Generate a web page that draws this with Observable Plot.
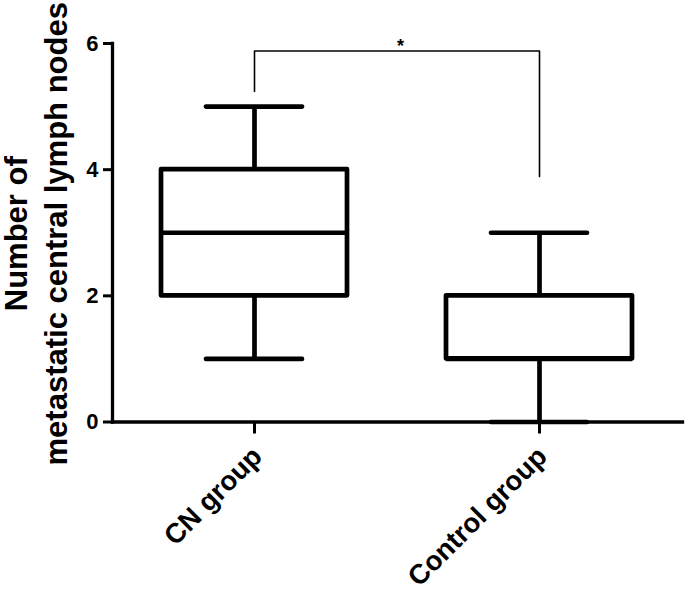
<!DOCTYPE html>
<html>
<head>
<meta charset="utf-8">
<script src="https://cdn.jsdelivr.net/npm/d3@7"></script>
<script src="https://cdn.jsdelivr.net/npm/@observablehq/plot@0.6"></script>
<style>
  html, body { margin: 0; padding: 0; background: #fff; }
</style>
</head>
<body>
<div id="chart"></div>
<script>
// ---- data ----
const groups  = ["CN group", "Control group"];
const mins    = [1, 0];
const q1s     = [2, 1];
const medians = [3, 1];
const q3s     = [4, 2];
const maxs    = [5, 3];
const yTicks  = [0, 2, 4, 6];
const yLabel  = "Number of\nmetastatic central lymph nodes";
// significance bracket
const bracketGroups = ["CN group", "CN group", "Control group", "Control group"];
const bracketValues = [5.24, 5.88, 5.88, 3.89];
const sigLabel = "*";
const sigValue = 5.88;

const rows = groups.map((g, i) => ({
  group: g, min: mins[i], q1: q1s[i], median: medians[i], q3: q3s[i], max: maxs[i]
}));
const bracket = bracketGroups.map((g, i) => ({group: g, value: bracketValues[i]}));

const W = 4.7;
const chart = Plot.plot({
  width: 685,
  height: 594,
  marginLeft: 112,
  marginRight: 3,
  marginTop: 43,
  marginBottom: 172.5,
  style: {fontFamily: "'Liberation Sans', Arial, sans-serif", fontWeight: "bold", color: "black", background: "white"},
  x: {type: "band", domain: groups, paddingInner: 0.347, paddingOuter: 0.1735},
  y: {domain: [0, 6]},
  marks: [
    Plot.ruleX(rows, {x: "group", y1: "min", y2: "q1", strokeWidth: W}),
    Plot.ruleX(rows, {x: "group", y1: "q3", y2: "max", strokeWidth: W}),
    Plot.tickY(rows, {x: "group", y: "min", insetLeft: 45, insetRight: 45, strokeWidth: W, strokeLinecap: "round"}),
    Plot.tickY(rows, {x: "group", y: "max", insetLeft: 45, insetRight: 45, strokeWidth: W, strokeLinecap: "round"}),
    Plot.barY(rows, {x: "group", y1: "q1", y2: "q3", fill: "white", stroke: "black", strokeWidth: W, strokeLinejoin: "round"}),
    Plot.tickY(rows, {x: "group", y: "median", strokeWidth: W}),
    Plot.frame({anchor: "left", strokeWidth: 3.3}),
    Plot.frame({anchor: "bottom", strokeWidth: 3.3}),
    Plot.axisY({ticks: yTicks, tickFormat: d3.format("d"), tickSize: 9, tickPadding: 5, fontSize: 22, fontWeight: "bold", strokeWidth: 3, label: null}),
    Plot.axisX({tickSize: 12, tickFormat: () => "", strokeWidth: 3, label: null}),
    Plot.text(groups, {x: d => d, text: d => d, frameAnchor: "bottom", rotate: -45, textAnchor: "end", lineAnchor: "middle", dx: 3, dy: 30, fontSize: 27.5, fontWeight: "bold"}),
    Plot.line(bracket, {x: "group", y: "value", strokeWidth: 1.6}),
    Plot.text([sigLabel], {y: [sigValue], text: d => d, frameAnchor: "middle", lineAnchor: "bottom", dx: 3, dy: 1, fontSize: 18, fontWeight: "bold"}),
    Plot.text([yLabel], {text: d => d, frameAnchor: "left", rotate: -90, textAnchor: "middle", lineAnchor: "middle", lineHeight: 1.26, dx: -78, dy: 1, fontSize: 31, fontWeight: "bold"})
  ]
});
document.getElementById("chart").appendChild(chart);
</script>
</body>
</html>
